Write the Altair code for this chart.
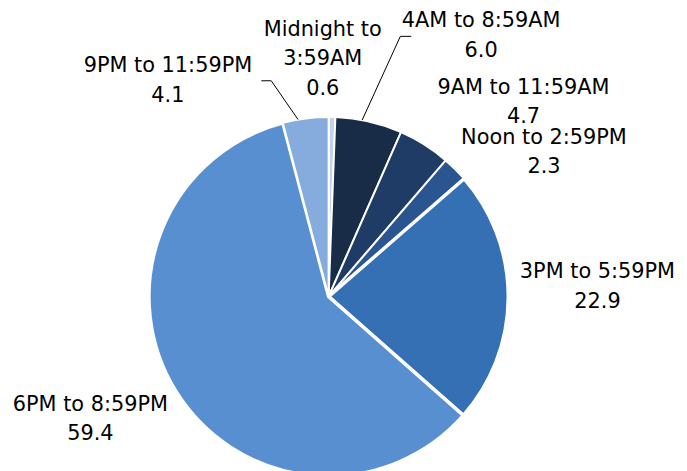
import math
import altair as alt
import pandas as pd

# ---- data ----
periods = ["Midnight to 3:59AM", "4AM to 8:59AM", "9AM to 11:59AM",
           "Noon to 2:59PM", "3PM to 5:59PM", "6PM to 8:59PM", "9PM to 11:59PM"]
label_lines = [["Midnight to", "3:59AM"], ["4AM to 8:59AM"], ["9AM to 11:59AM"],
               ["Noon to 2:59PM"], ["3PM to  5:59PM"], ["6PM to  8:59PM"], ["9PM to 11:59PM"]]
values = [0.6, 6.0, 4.7, 2.3, 22.9, 59.4, 4.1]
colors = ["#C3D3E8", "#182B47", "#1F3C66", "#2B5590", "#356FB4", "#588FD0", "#86ACDD"]

# ---- layout (styles / label placement) ----
CX, CY, R = 323, 289, 181
LINE_H = 30
label_angle_offset = [-2.5, 17.4, 12.9, 11.4, -2.2, 4.4, -29.3]   # degrees from slice middle
label_radius = [239, 304, 277, 261, 271, 270, 271]
# leader lines: (slice index, start offset deg, elbow angle offset deg, elbow radius, horizontal length)
leaders = [(1, -2.2, 2.45, 272, 11), (6, -2.4, -7.5, 225, -10)]
wide_gap = ["3PM to 5:59PM", "6PM to 8:59PM"]

total = sum(values)
mids = []
acc = 0.0
for v in values:
    mids.append((acc + v / 2) / total * 360.0)
    acc += v

def pt(angle_deg, r):
    a = math.radians(angle_deg)
    return CX + r * math.sin(a), CY - r * math.cos(a)

df = pd.DataFrame({"period": periods, "value": values, "idx": list(range(len(periods)))})

lab_rows = []
for i, p in enumerate(periods):
    x, y = pt(mids[i] + label_angle_offset[i], label_radius[i])
    lines_txt = label_lines[i] + [f"{values[i]:.1f}"]
    y_top = y - (len(lines_txt) - 1) * LINE_H / 2
    lab_rows.append({"period": p, "txt": lines_txt, "lx": x, "ly": y_top})
labels = pd.DataFrame(lab_rows)

lead_rows = []
for (i, so, eo, er, hl) in leaders:
    x0, y0 = pt(mids[i] + so, R)
    x1, y1 = pt(mids[i] + eo, er)
    lead_rows += [{"k": i, "o": 0, "x": x0, "y": y0},
                  {"k": i, "o": 1, "x": x1, "y": y1},
                  {"k": i, "o": 2, "x": x1 + hl, "y": y1}]
lead = pd.DataFrame(lead_rows)

pie = alt.Chart(df).mark_arc(outerRadius=R, stroke="white").encode(
    theta=alt.Theta("value:Q", stack=True),
    color=alt.Color("period:N", scale=alt.Scale(domain=periods, range=colors), legend=None),
    order=alt.Order("idx:Q"),
    strokeWidth=alt.condition(
        alt.FieldOneOfPredicate(field="period", oneOf=wide_gap), alt.value(3.5), alt.value(2)
    ),
    x=alt.value(CX), y=alt.value(CY),
)

text = alt.Chart(labels).mark_text(
    font="DejaVu Sans", fontSize=21, color="black", align="center", baseline="middle",
    lineHeight=LINE_H,
).encode(
    x=alt.X("lx:Q", scale=None, axis=None),
    y=alt.Y("ly:Q", scale=None, axis=None),
    text="txt",
)

lines = alt.Chart(lead).mark_line(color="black", strokeWidth=1).encode(
    x=alt.X("x:Q", scale=None, axis=None),
    y=alt.Y("y:Q", scale=None, axis=None),
    detail="k:N",
    order="o:Q",
)

chart = alt.layer(pie, lines, text).properties(
    width=671, height=470, padding=0
).configure_view(stroke=None)

chart.save("out.html", embed_options={"renderer": "svg", "actions": False})
